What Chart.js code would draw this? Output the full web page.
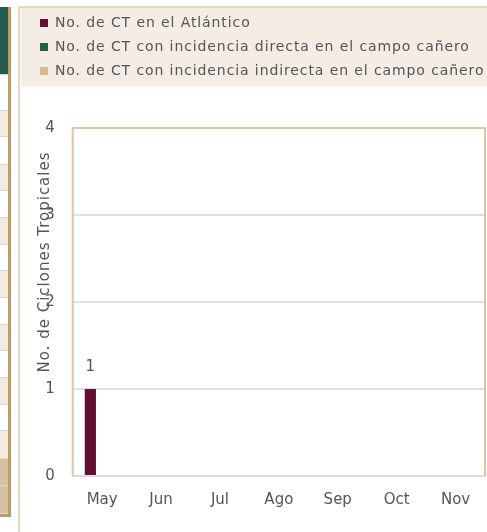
<!DOCTYPE html>
<html>
<head>
    <title>Ciclones Tropicales</title>
    <script src="https://cdn.jsdelivr.net/npm/chart.js@4.4.1/dist/chart.umd.min.js"></script>
    <style>
        body { margin: 0; width: 487px; height: 532px; overflow: hidden; background: #fff; position: relative; }
        #tabla { position: absolute; left: 0; top: 7px; width: 8px; border-right: 3px solid #bf9a66; border-bottom: 3px solid #bf9a66; }
        #tabla div { border-bottom: 1px solid #d8d8d8; box-sizing: border-box; }
        #marco { position: absolute; left: 18px; top: 6px; width: 480px; height: 540px; border: 2px solid #e6d5bf; box-sizing: border-box; }
        #fondoLeyenda { position: absolute; left: 21px; top: 8px; width: 480px; height: 79px; background: #f3ede6; }
        #wrap { position: absolute; left: 20px; top: 6px; width: 480px; height: 526px; }
    </style>
</head>
<body>
    <div id="tabla"></div>
    <div id="marco"></div>
    <div id="fondoLeyenda"></div>
    <div id="wrap"><canvas id="myChart"></canvas></div>

    <script>
        var meses = ['May', 'Jun', 'Jul', 'Ago', 'Sep', 'Oct', 'Nov'];
        var ctAtlantico = [1, 0, 0, 0, 0, 0, 0];
        var ctDirecta = [0, 0, 0, 0, 0, 0, 0];
        var ctIndirecta = [0, 0, 0, 0, 0, 0, 0];
        var yTicks = [0, 1, 2, 3, 4];

        // trozo de la tabla de al lado
        var filas = [
            ['#235b4e', 68], ['#fff', 36], ['#f3ebe0', 26], ['#fff', 28], ['#f3ebe0', 26], ['#fff', 27],
            ['#f3ebe0', 27], ['#fff', 26], ['#f3ebe0', 27], ['#fff', 27], ['#f3ebe0', 26], ['#fff', 27],
            ['#f3ebe0', 27], ['#fff', 26], ['#f3ebe0', 28], ['#d5c19f', 27], ['#d5c19f', 28]
        ];
        var tabla = document.getElementById('tabla');
        filas.forEach(function (f) {
            var d = document.createElement('div');
            d.style.background = f[0];
            d.style.height = f[1] + 'px';
            tabla.appendChild(d);
        });

        var marcoPlot = {
            id: 'marcoPlot',
            afterDraw: function (chart) {
                var a = chart.chartArea, c = chart.ctx;
                c.save();
                c.strokeStyle = '#dcc6a8';
                c.lineWidth = 2;
                c.beginPath();
                c.moveTo(a.left, a.bottom);
                c.lineTo(a.left, a.top);
                c.lineTo(a.right, a.top);
                c.lineTo(a.right, a.bottom);
                c.stroke();
                c.restore();
            }
        };

        var etiquetas = {
            id: 'etiquetas',
            afterDatasetsDraw: function (chart) {
                var c = chart.ctx;
                c.save();
                c.font = '15px "DejaVu Sans"';
                c.fillStyle = '#555';
                c.textAlign = 'center';
                c.textBaseline = 'middle';
                chart.data.datasets.forEach(function (ds, i) {
                    chart.getDatasetMeta(i).data.forEach(function (bar, j) {
                        if (ds.data[j] > 0) c.fillText(ds.data[j], bar.x, bar.y - 22);
                    });
                });
                c.restore();
            }
        };

        // leyenda: mas espacio abajo y letra mas ancha
        var ajusteLeyenda = {
            id: 'ajusteLeyenda',
            beforeInit: function (chart) {
                var lg = chart.legend;
                var fit = lg.fit, draw = lg.draw;
                lg.fit = function () {
                    this.ctx.letterSpacing = '0.9px';
                    fit.call(this);
                    this.ctx.letterSpacing = '0px';
                    this.height += 40;
                };
                lg.draw = function () {
                    this.ctx.letterSpacing = '0.9px';
                    draw.apply(this, arguments);
                    this.ctx.letterSpacing = '0px';
                };
            }
        };

        // titulo del eje y un poco mas arriba y mas ancho, como en el original
        var ajusteTitulo = {
            id: 'ajusteTitulo',
            beforeDraw: function (chart) {
                var s = chart.scales.y;
                if (s._tituloOk) return;
                var orig = s.drawTitle;
                s.drawTitle = function () {
                    var c = this.ctx;
                    c.save();
                    c.translate(0, -40);
                    c.letterSpacing = '1px';
                    orig.apply(this, arguments);
                    c.restore();
                };
                s._tituloOk = true;
            }
        };

        var ctx = document.getElementById('myChart').getContext('2d');
        var myChart = new Chart(ctx, {
            type: 'bar',
            data: {
                labels: meses,
                datasets: [
                    { label: 'No. de CT en el Atlántico', data: ctAtlantico, backgroundColor: '#621132' },
                    { label: 'No. de CT con incidencia directa en el campo cañero', data: ctDirecta, backgroundColor: '#285c4d' },
                    { label: 'No. de CT con incidencia indirecta en el campo cañero', data: ctIndirecta, backgroundColor: '#d4bb96' }
                ]
            },
            options: {
                responsive: true,
                maintainAspectRatio: false,
                animation: false,
                categoryPercentage: 0.6,
                barPercentage: 0.95,
                layout: { padding: { left: 10, right: 15, top: 0, bottom: 16 } },
                plugins: {
                    tooltip: { enabled: false },
                    legend: {
                        align: 'start',
                        labels: {
                            boxWidth: 8,
                            boxHeight: 8,
                            padding: 10,
                            color: '#555',
                            font: { family: 'DejaVu Sans', size: 14 }
                        }
                    }
                },
                scales: {
                    x: {
                        grid: { display: false },
                        border: { display: true, color: '#dddddd', width: 2 },
                        ticks: { color: '#555', padding: 7, font: { family: 'DejaVu Sans', size: 15 } }
                    },
                    y: {
                        min: 0,
                        max: 4,
                        afterBuildTicks: function (s) { s.ticks = yTicks.map(function (v) { return { value: v }; }); },
                        grid: { color: '#e0e0e0', lineWidth: 2, drawTicks: false },
                        border: { display: false },
                        ticks: { color: '#555', padding: 18, font: { family: 'DejaVu Sans', size: 15 } },
                        title: {
                            display: true,
                            text: 'No. de Ciclones Tropicales',
                            color: '#555',
                            padding: { top: 15, bottom: -18 },
                            font: { family: 'DejaVu Sans', size: 15, lineHeight: 0.01 }
                        }
                    }
                }
            },
            plugins: [marcoPlot, etiquetas, ajusteLeyenda, ajusteTitulo]
        });
    </script>
</body>
</html>
